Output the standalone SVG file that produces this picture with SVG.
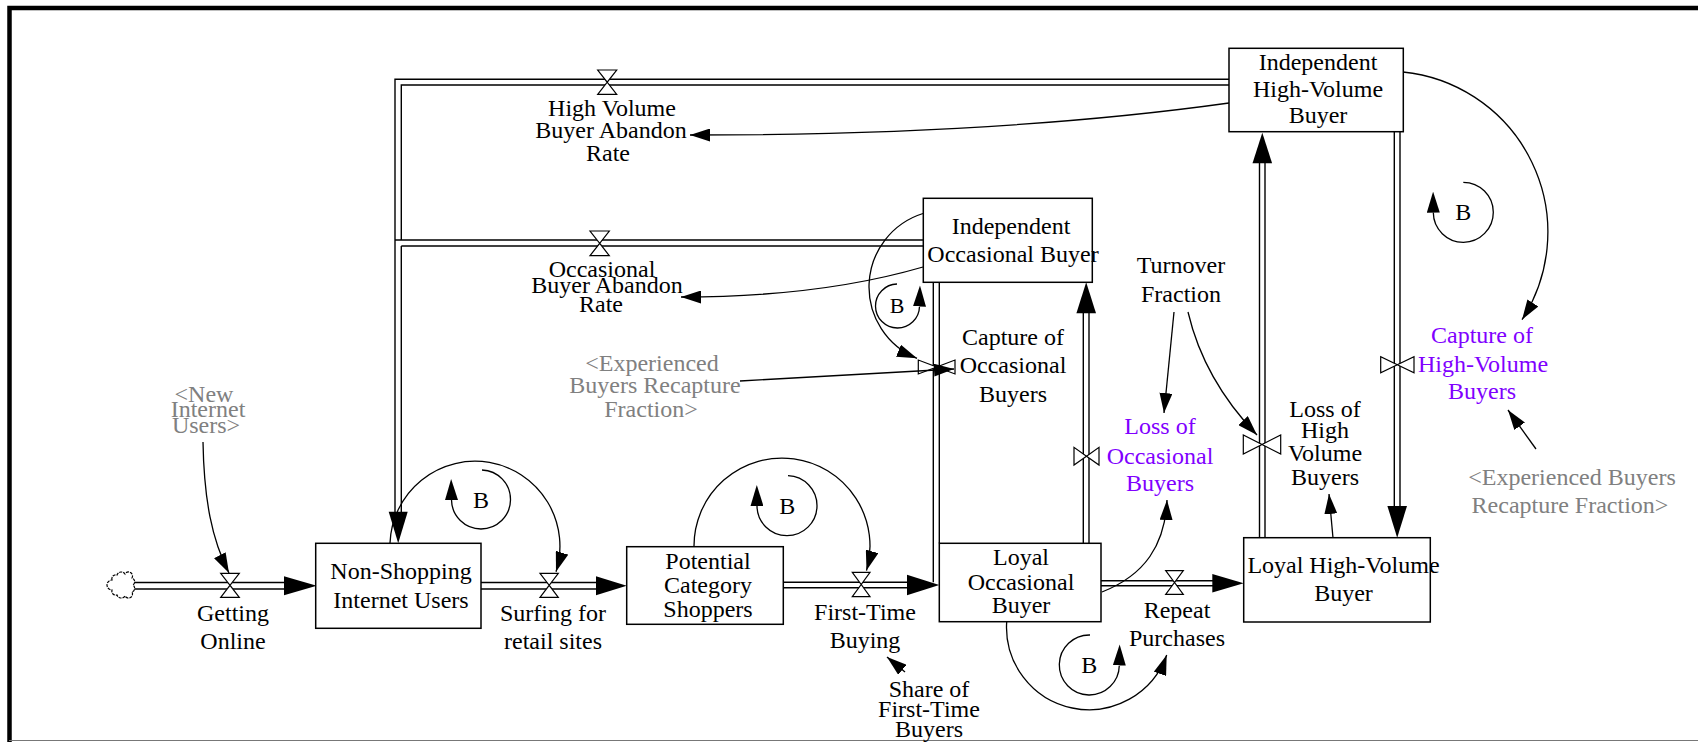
<svg xmlns="http://www.w3.org/2000/svg" width="1698" height="742" viewBox="0 0 1698 742">
<defs>
<marker id="arr" markerUnits="userSpaceOnUse" markerWidth="20" markerHeight="13" refX="20" refY="6.5" orient="auto" viewBox="0 0 20 13"><path d="M0,0 L20,6.5 L0,13 z" fill="#000"/></marker>
<marker id="loopArr" markerUnits="userSpaceOnUse" markerWidth="21" markerHeight="13" refX="0" refY="6.5" orient="auto" viewBox="0 0 21 13"><path d="M0,0 L21,6.5 L0,13 z" fill="#000"/></marker>
</defs>
<style>
text{font-family:"Liberation Serif","Times New Roman",serif;font-size:24px;fill:#000;text-anchor:middle}
.stock{fill:#fff;stroke:#000;stroke-width:1.5}
.pipe{stroke:#000;stroke-width:1.4;fill:none}
.valve{fill:#fff;stroke:#000;stroke-width:1.2;stroke-linejoin:miter}
.head{fill:#000}
.conn{fill:none;stroke:#000;stroke-width:1.3;marker-end:url(#arr)}
.loop{fill:none;stroke:#000;stroke-width:1.3;marker-end:url(#loopArr)}
.purple{fill:#8000ff}
.gray{fill:#808080}
</style>
<rect width="1698" height="742" fill="#fff"/>
<path d="M9.5,742 V8 H1698" fill="none" stroke="#000" stroke-width="4.5"/>
<line x1="9" y1="740.5" x2="1698" y2="740.5" stroke="#777" stroke-width="1"/>

<g id="pipes">
<line class="pipe" x1="133" y1="582.5" x2="285" y2="582.5"/><line class="pipe" x1="133" y1="589" x2="285" y2="589"/>
<line class="pipe" x1="481" y1="582.5" x2="597" y2="582.5"/><line class="pipe" x1="481" y1="589" x2="597" y2="589"/>
<line class="pipe" x1="783" y1="582.3" x2="908" y2="582.3"/><line class="pipe" x1="783" y1="587.7" x2="908" y2="587.7"/>
<line class="pipe" x1="1101" y1="580.8" x2="1213" y2="580.8"/><line class="pipe" x1="1101" y1="585.8" x2="1213" y2="585.8"/>
<path class="pipe" d="M1229,79.3 H395 V512"/>
<path class="pipe" d="M1229,85 H401.3 V240 M401.3,246 V512"/>
<line class="pipe" x1="395" y1="240" x2="923.3" y2="240"/><line class="pipe" x1="401.3" y1="246" x2="923.3" y2="246"/>
<line class="pipe" x1="933.3" y1="282.3" x2="933.3" y2="582.3"/><line class="pipe" x1="939.3" y1="282.3" x2="939.3" y2="543.3"/>
<line class="pipe" x1="1083.3" y1="313" x2="1083.3" y2="543.3"/><line class="pipe" x1="1089" y1="313" x2="1089" y2="543.3"/>
<line class="pipe" x1="1259.5" y1="163" x2="1259.5" y2="537.7"/><line class="pipe" x1="1265" y1="163" x2="1265" y2="537.7"/>
<line class="pipe" x1="1394.3" y1="131.7" x2="1394.3" y2="507"/><line class="pipe" x1="1400" y1="131.7" x2="1400" y2="507"/>
<polygon class="head" points="284,576.2 316.7,585.7 284,595.2"/>
<polygon class="head" points="596,576.2 626.7,585.7 596,595.2"/>
<polygon class="head" points="907,574.7 939.3,585 907,595.3"/>
<polygon class="head" points="1212.3,574.1 1243.7,583.3 1212.3,592.5"/>
<polygon class="head" points="388.7,511.7 398.2,543.3 407.7,511.7"/>
<polygon class="head" points="1076.4,313.3 1086.2,282.3 1096,313.3"/>
<polygon class="head" points="1252.5,163.3 1262.3,132.7 1272.1,163.3"/>
<polygon class="head" points="1387.4,506 1397.2,537.7 1407,506"/>
<path id="cloud" d="M112,580 a4,4 0 0,1 5,-5 a4.5,4.5 0 0,1 8,-1 a4,4 0 0,1 7,4 a4,4 0 0,1 1,7 a4,4 0 0,1 -1,7 a4,4 0 0,1 -7,4 a4.5,4.5 0 0,1 -8,-1 a4,4 0 0,1 -5,-5 a4,4 0 0,1 0,-10 z" fill="#fff" stroke="#000" stroke-width="1.2" stroke-dasharray="3,1"/>
</g>

<g id="valves">
<path class="valve" d="M220.7,573.3 H239.3 L230,585.3 Z M220.7,597.3 H239.3 L230,585.3 Z"/>
<path class="valve" d="M540,573.3 H558.3 L549.2,585.3 Z M540,597.3 H558.3 L549.2,585.3 Z"/>
<path class="valve" d="M852.3,572.3 H870 L861.2,584.5 Z M852.3,596.7 H870 L861.2,584.5 Z"/>
<path class="valve" d="M1165.7,570.7 H1183.3 L1174.5,582.5 Z M1165.7,594.3 H1183.3 L1174.5,582.5 Z"/>
<path class="valve" d="M597.7,70 H616.7 L607.2,82.2 Z M597.7,94.3 H616.7 L607.2,82.2 Z"/>
<path class="valve" d="M590,231 H609.3 L599.7,243.3 Z M590,255.7 H609.3 L599.7,243.3 Z"/>
<path class="valve" d="M918.3,360 V374 L936.7,367 Z M955,360 V374 L936.7,367 Z"/>
<path class="valve" d="M1074,447.3 V465 L1086.5,456.2 Z M1099,447.3 V465 L1086.5,456.2 Z"/>
<path class="valve" d="M1243.3,435 V454 L1262,444.5 Z M1280.7,435 V454 L1262,444.5 Z"/>
<path class="valve" d="M1380.7,356.7 V372.7 L1397.3,364.7 Z M1414,356.7 V372.7 L1397.3,364.7 Z"/>
</g>

<g id="connectors">
<path class="conn" d="M203,442 C204,500 212,540 229,573"/>
<path class="conn" d="M390,543 A85,85 0 1,1 556,571.8"/>
<path class="conn" d="M694,547 A88,88 0 1,1 866.5,570.6"/>
<path class="conn" d="M905,672 L887,657"/>
<path class="conn" d="M740,381 L954,369"/>
<path class="conn" d="M923,213.5 A77,77 0 0,0 917,358.3"/>
<path class="conn" d="M923,267 Q820,297 681,297"/>
<path class="conn" d="M1229,103 Q1000,135 690,135"/>
<path class="conn" d="M1403,72 A161,161 0 0,1 1522,319.7"/>
<path class="conn" d="M1174,312 L1164,413"/>
<path class="conn" d="M1188,312 Q1204,380 1257,435"/>
<path class="conn" d="M1536,449 L1508,410"/>
<path class="conn" d="M1102,592 C1145,575 1165,545 1167,500"/>
<path class="conn" d="M1006.7,621.7 A82.5,82.5 0 0,0 1166.7,655"/>
<path class="conn" d="M1333,538 L1329,494"/>
</g>

<g id="loops">
<path class="loop" d="M482,470 A29.5,29.5 0 1,1 451.5,500"/>
<text x="481" y="507.5">B</text>
<path class="loop" d="M788,475.7 A30,30 0 1,1 757,506"/>
<text x="787.3" y="513.7">B</text>
<path class="loop" d="M897,284 A22,22 0 1,0 919.5,306.5"/>
<text x="897" y="313" style="font-size:22px">B</text>
<path class="loop" d="M1463.3,182.3 A30,30 0 1,1 1433.3,212.6"/>
<text x="1463.3" y="220.3">B</text>
<path class="loop" d="M1090,635 A30,30 0 1,0 1119.3,665.5"/>
<text x="1089.3" y="673">B</text>
</g>

<g id="non-shopping">
<rect class="stock" x="315.7" y="543.3" width="165.3" height="85"/>
<text><tspan x="401" y="579">Non-Shopping</tspan><tspan x="401" y="607.7">Internet Users</tspan></text>
</g>
<g id="potential">
<rect class="stock" x="626.7" y="546.7" width="156.6" height="77.6"/>
<text><tspan x="708" y="569.3">Potential</tspan><tspan x="708" y="593.3">Category</tspan><tspan x="708" y="616.7">Shoppers</tspan></text>
</g>
<g id="loyal-occasional">
<rect class="stock" x="939.3" y="543.3" width="161.7" height="78.4"/>
<text><tspan x="1021" y="565">Loyal</tspan><tspan x="1021" y="590">Occasional</tspan><tspan x="1021" y="613.3">Buyer</tspan></text>
</g>
<g id="loyal-hv">
<rect class="stock" x="1243.7" y="537.7" width="186.6" height="84.3"/>
<text><tspan x="1343.5" y="572.7">Loyal High-Volume</tspan><tspan x="1343.5" y="601">Buyer</tspan></text>
</g>
<g id="indep-occ">
<rect class="stock" x="923.3" y="198.3" width="169" height="84"/>
<text><tspan x="1011" y="234.3">Independent</tspan><tspan x="1013" y="261.7">Occasional Buyer</tspan></text>
</g>
<g id="indep-hv">
<rect class="stock" x="1229" y="48.3" width="174.3" height="83.4"/>
<text><tspan x="1318" y="70">Independent</tspan><tspan x="1318" y="96.7">High-Volume</tspan><tspan x="1318" y="123.3">Buyer</tspan></text>
</g>

<g id="getting-online"><text><tspan x="233" y="620.7">Getting</tspan><tspan x="233" y="649.3">Online</tspan></text></g>
<g id="surfing"><text><tspan x="553" y="620.7">Surfing for</tspan><tspan x="553" y="649.3">retail sites</tspan></text></g>
<g id="first-time"><text><tspan x="865" y="620">First-Time</tspan><tspan x="865" y="648.3">Buying</tspan></text></g>
<g id="share"><text><tspan x="929" y="696.7">Share of</tspan><tspan x="929" y="717.3">First-Time</tspan><tspan x="929" y="736.7">Buyers</tspan></text></g>
<g id="repeat"><text><tspan x="1177" y="617.7">Repeat</tspan><tspan x="1177" y="646">Purchases</tspan></text></g>
<g id="loss-hv"><text><tspan x="1325" y="416.7">Loss of</tspan><tspan x="1325" y="438.3">High</tspan><tspan x="1325" y="461">Volume</tspan><tspan x="1325" y="485">Buyers</tspan></text></g>
<g id="loss-occ"><text class="purple"><tspan x="1160" y="434">Loss of</tspan><tspan x="1160" y="464">Occasional</tspan><tspan x="1160" y="491">Buyers</tspan></text></g>
<g id="turnover"><text><tspan x="1181" y="273.3">Turnover</tspan><tspan x="1181" y="302.3">Fraction</tspan></text></g>
<g id="capture-hv"><text class="purple"><tspan x="1482" y="342.7">Capture of</tspan><tspan x="1483" y="371.7">High-Volume</tspan><tspan x="1482" y="399.3">Buyers</tspan></text></g>
<g id="exp-right"><text class="gray"><tspan x="1572" y="485">&lt;Experienced Buyers</tspan><tspan x="1570" y="513.3">Recapture Fraction&gt;</tspan></text></g>
<g id="capture-occ"><text><tspan x="1013" y="345">Capture of</tspan><tspan x="1013" y="373.3">Occasional</tspan><tspan x="1013" y="401.7">Buyers</tspan></text></g>
<g id="hv-abandon"><text><tspan x="612" y="116">High Volume</tspan><tspan x="611" y="138.3">Buyer Abandon</tspan><tspan x="608" y="160.7">Rate</tspan></text></g>
<g id="occ-abandon"><text><tspan x="602" y="277.3">Occasional</tspan><tspan x="607" y="293.3">Buyer Abandon</tspan><tspan x="601" y="311.7">Rate</tspan></text></g>
<g id="new-users"><text class="gray"><tspan x="204" y="402">&lt;New</tspan><tspan x="208" y="417">Internet</tspan><tspan x="206" y="433">Users&gt;</tspan></text></g>
<g id="exp-left"><text class="gray"><tspan x="652" y="370.7">&lt;Experienced</tspan><tspan x="655" y="393.3">Buyers Recapture</tspan><tspan x="651" y="416.7">Fraction&gt;</tspan></text></g>
</svg>
